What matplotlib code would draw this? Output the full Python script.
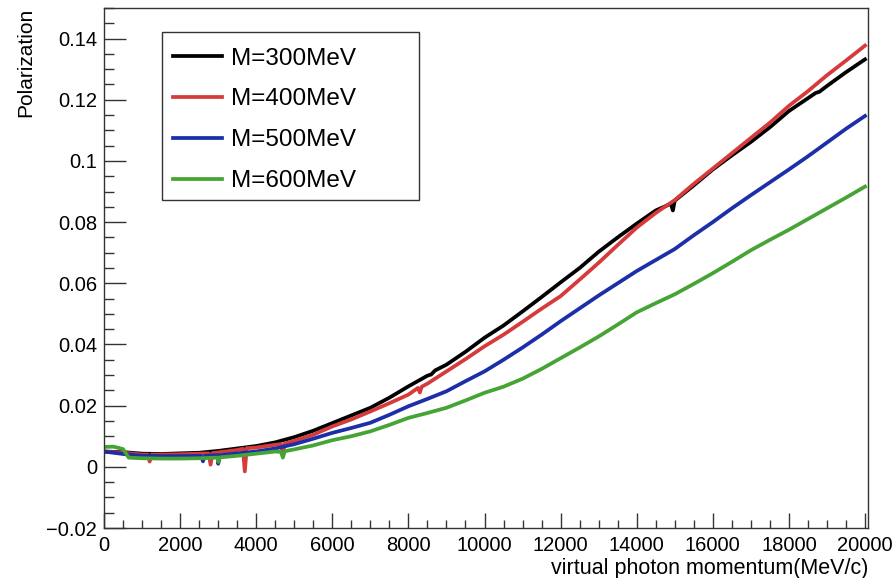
import numpy as np
import matplotlib
matplotlib.use("Agg")
import matplotlib.pyplot as plt
from matplotlib.ticker import MultipleLocator, FuncFormatter
from matplotlib.patches import Rectangle

plt.rcParams['font.family'] = ['Liberation Sans', 'DejaVu Sans']

# momentum grid (MeV/c) shared by all curves
p = np.arange(0, 20001, 500)

pol_300 = [0.0050, 0.0048, 0.0043, 0.0042, 0.0044, 0.0046, 0.0052, 0.0060, 0.0068, 0.0080,
           0.0097, 0.0118, 0.0143, 0.0168, 0.0193, 0.0226, 0.0263, 0.0298, 0.0334, 0.0376,
           0.0422, 0.0462, 0.0508, 0.0555, 0.0603, 0.0650, 0.0703, 0.0750, 0.0795, 0.0838,
           0.0870, 0.0920, 0.0972, 0.1018, 0.1062, 0.1110, 0.1163, 0.1205, 0.1245, 0.1290,
           0.1332]
pol_400 = [0.0050, 0.0046, 0.0040, 0.0040, 0.0041, 0.0043, 0.0047, 0.0055, 0.0063, 0.0072,
           0.0085, 0.0105, 0.0132, 0.0155, 0.0181, 0.0208, 0.0236, 0.0272, 0.0312, 0.0352,
           0.0394, 0.0432, 0.0474, 0.0517, 0.0558, 0.0612, 0.0667, 0.0725, 0.0782, 0.0830,
           0.0872, 0.0925, 0.0975, 0.1025, 0.1075, 0.1125, 0.1180, 0.1228, 0.1280, 0.1328,
           0.1377]
pol_500 = [0.0050, 0.0042, 0.0036, 0.0035, 0.0035, 0.0036, 0.0038, 0.0044, 0.0050, 0.0060,
           0.0074, 0.0092, 0.0111, 0.0127, 0.0144, 0.0170, 0.0198, 0.0222, 0.0247, 0.0280,
           0.0312, 0.0350, 0.0390, 0.0432, 0.0476, 0.0518, 0.0560, 0.0600, 0.0640, 0.0676,
           0.0712, 0.0757, 0.0800, 0.0845, 0.0888, 0.0930, 0.0972, 0.1015, 0.1060, 0.1105,
           0.1147]
pol_600 = [0.0065, 0.0058, 0.0028, 0.0027, 0.0027, 0.0028, 0.0030, 0.0036, 0.0043, 0.0050,
           0.0057, 0.0070, 0.0087, 0.0100, 0.0116, 0.0137, 0.0160, 0.0176, 0.0193, 0.0217,
           0.0242, 0.0262, 0.0288, 0.0320, 0.0355, 0.0390, 0.0426, 0.0465, 0.0505, 0.0535,
           0.0564, 0.0598, 0.0633, 0.0670, 0.0708, 0.0742, 0.0775, 0.0810, 0.0845, 0.0880,
           0.0916]

# isolated fluctuating bins (momentum, polarization)
spk_300 = [(8600, 0.0302), (8700, 0.0315),
           (14900, 0.0860), (14950, 0.0838),
           (18700, 0.1222), (18800, 0.1226)]
spk_400 = [(1150, 0.0040), (1200, 0.0017), (1250, 0.0040),
           (2750, 0.0044), (2800, 0.0007), (2850, 0.0045),
           (3650, 0.0059), (3700, -0.0015), (3750, 0.0061),
           (4650, 0.0074), (4700, 0.0040), (4750, 0.0076),
           (8250, 0.0258), (8300, 0.0243), (8350, 0.0262)]
spk_500 = [(2550, 0.0036), (2600, 0.0018), (2650, 0.0036),
           (2950, 0.0038), (3000, 0.0010), (3050, 0.0038)]
spk_600 = [(250, 0.0066), (650, 0.0030),
           (2950, 0.0030), (3000, 0.0016), (3050, 0.0031),
           (4650, 0.0049), (4700, 0.0030), (4750, 0.0051)]

labels = ["M=300MeV", "M=400MeV", "M=500MeV", "M=600MeV"]
couleurs = ["black", "#d63a3a", "#1c2ea8", "#46a435"]


def fusion(y, pics):
    # on insere les bins isoles dans la grille reguliere
    xs = list(p) + [a for a, b in pics]
    ys = list(y) + [b for a, b in pics]
    ordre = np.argsort(xs, kind="stable")
    return np.array(xs)[ordre], np.array(ys)[ordre]


fig = plt.figure(figsize=(8.96, 5.78), dpi=100)
ax = fig.add_axes([0.1161, 0.0865, 0.9688 - 0.1161, 0.9862 - 0.0865])

for y, pics, c, lab in zip([pol_300, pol_400, pol_500, pol_600],
                           [spk_300, spk_400, spk_500, spk_600], couleurs, labels):
    xs, ys = fusion(y, pics)
    ax.plot(xs, ys, color=c, lw=2.7, label=lab)

ax.set_xlim(0, 20080)
ax.set_ylim(-0.02, 0.15)

ax.xaxis.set_major_locator(MultipleLocator(2000))
ax.xaxis.set_minor_locator(MultipleLocator(500))
ax.yaxis.set_major_locator(MultipleLocator(0.02))
ax.yaxis.set_minor_locator(MultipleLocator(0.005))
ax.yaxis.set_major_formatter(FuncFormatter(lambda v, pos: ("%g" % round(v, 4)).replace("-", "\u2212")))
ax.xaxis.set_major_formatter(FuncFormatter(lambda v, pos: "%d" % v))

ax.tick_params(axis="both", which="both", direction="in", top=False, right=False,
               labelsize=14.5, width=1, color="#333333")
ax.tick_params(axis="x", which="major", length=11, pad=6)
ax.tick_params(axis="x", which="minor", length=5.5)
ax.tick_params(axis="y", which="major", length=16, pad=5)
ax.tick_params(axis="y", which="minor", length=7.5)
for s in ax.spines.values():
    s.set_linewidth(1)
    s.set_color("#333333")

ax.set_xlabel("virtual photon momentum(MeV/c)", fontsize=15.5, loc="right", labelpad=2)
ax.set_ylabel("Polarization", fontsize=15, loc="top", labelpad=8)

leg = ax.legend(loc="upper left", bbox_to_anchor=(0.0903, 0.924), frameon=False,
                fontsize=17.5, handlelength=2.0, handletextpad=0.4, labelspacing=0.78,
                borderpad=0, borderaxespad=0)
for ligne in leg.get_lines():
    ligne.set_linewidth(2.7)
ax.add_patch(Rectangle((0.0759, 0.6308), 0.4123 - 0.0759, 0.9538 - 0.6308,
                       transform=ax.transAxes, fill=False, lw=1, ec="#333333", zorder=5))

plt.savefig("out.png", dpi=100)
